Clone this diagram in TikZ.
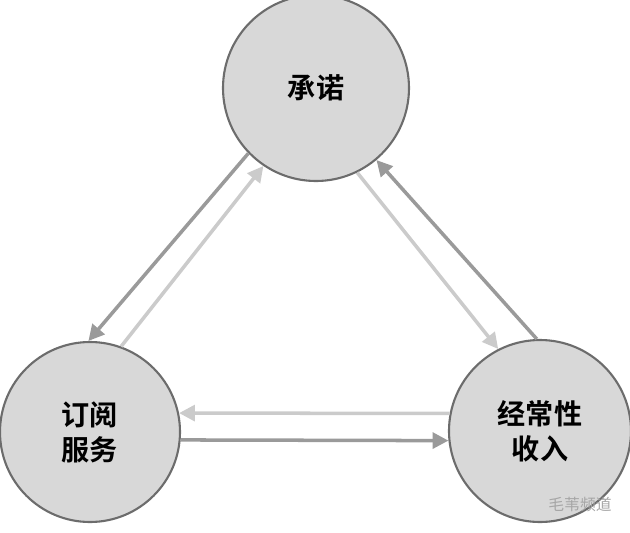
\documentclass[tikz,border=0pt]{standalone}
\usepackage{fontspec}
\newfontfamily\cjk{Noto Sans CJK SC}
\newfontfamily\cjkb{Noto Sans CJK SC Bold}
\usetikzlibrary{arrows.meta}
\definecolor{darkline}{HTML}{9A9A9A}
\definecolor{lightline}{HTML}{CBCBCB}
\definecolor{ballfill}{HTML}{D8D8D8}

\begin{document}
\begin{tikzpicture}[x=0.02cm, y=-0.02cm]
\tikzstyle{ball}=[circle, draw=gray!85!black, line width=1.2pt, fill=ballfill, inner sep=0pt, font=\cjkb\fontsize{16}{20}\selectfont, align=center]
\tikzstyle{darkarrow}=[line width=2pt, draw=darkline, -{Triangle[length=9pt, width=9pt]}]
\tikzstyle{lightarrow}=[line width=2pt, draw=lightline, -{Triangle[length=9pt, width=9pt]}]
\useasboundingbox (0,0) rectangle (630,532);

\node[ball, minimum size=186*0.02cm] (PROM) at (316,88) {承诺};
\node[ball, minimum size=180*0.02cm] (SUBS) at (90,432) {订阅\\服务};
\node[ball, minimum size=182*0.02cm] (REVN) at (540,431) {经常性\\收入};

\draw[darkarrow] (PROM.224) -- (SUBS.91);
\draw[lightarrow] (SUBS.70) -- (PROM.236);
\draw[lightarrow] (PROM.296) -- (REVN.117);
\draw[darkarrow] (REVN.92) -- (PROM.310);
\draw[lightarrow] (REVN.169) -- (SUBS.12);
\draw[darkarrow] (SUBS.-5) -- (REVN.186);

\node[text=gray!70, font=\cjk\fontsize{9}{11}\selectfont] (MARK) at (580,504) {毛苇频道};
\end{tikzpicture}
\end{document}
